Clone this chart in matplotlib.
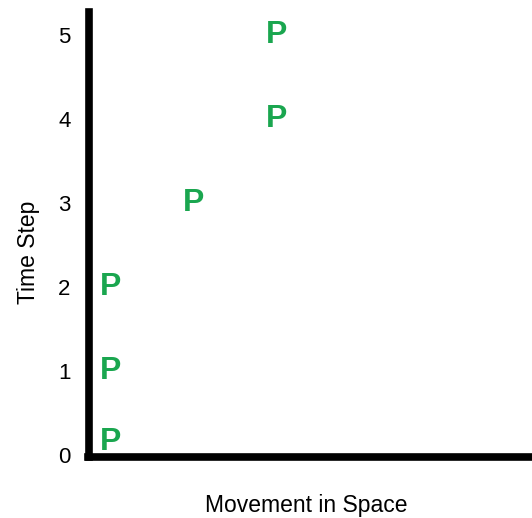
import matplotlib.pyplot as plt

plt.rcParams['font.family'] = ['Liberation Sans', 'DejaVu Sans']

# positions of the particle at each time step
space = [0, 0, 0, 1, 2, 2]
time = [0.15, 1, 2, 3, 4, 5]
marker_label = 'P'
yticks = [0, 1, 2, 3, 4, 5]

fig = plt.figure(figsize=(5.32, 5.18), dpi=100)
ax = fig.add_axes([88.5 / 532, 61.5 / 518, 1 - 88.5 / 532, 444.5 / 518])

for x, y in zip(space, time):
    ax.text(x, y, marker_label, color='#1aa64f', fontsize=23, fontweight='bold',
            ha='center', va='center')

ax.set_xlim(-0.26, 5.08)
ax.set_ylim(-0.02, 5.27)

for side in ['top', 'right']:
    ax.spines[side].set_visible(False)
for side in ['left', 'bottom']:
    ax.spines[side].set_linewidth(5.5)
    ax.spines[side].set_color('black')
    ax.spines[side].set_capstyle('projecting')

ax.set_xticks([])
ax.set_yticks(yticks)
ax.tick_params(axis='y', length=0, pad=13, labelsize=16)

ax.set_xlabel('Movement in Space', fontsize=16.5)
ax.set_ylabel('Time Step', fontsize=16.5)
ax.xaxis.set_label_coords(0.49, -0.084)
ax.yaxis.set_label_coords(-0.11, 0.46)

fig.savefig('out.png', dpi=100)
